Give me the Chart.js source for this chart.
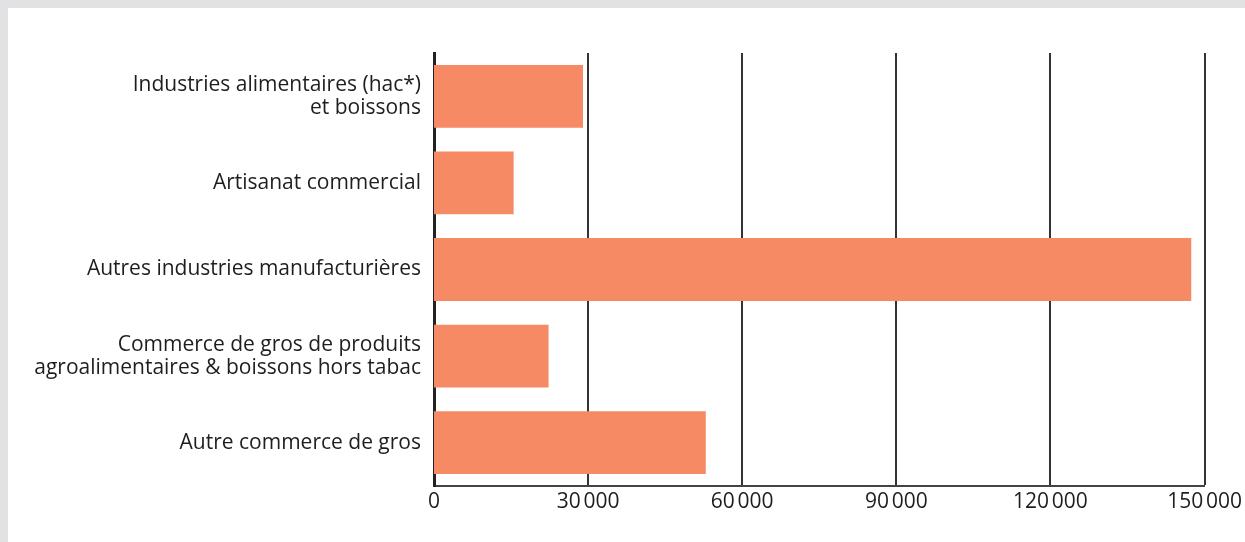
<!DOCTYPE html>
<html lang="fr">
<head>
<meta charset="utf-8">
<script src="https://cdn.jsdelivr.net/npm/chart.js@4"></script>
<style>
    html, body { margin: 0; padding: 0; background: #e2e2e4; }
    .panel { position: absolute; left: 8px; top: 8px; width: 1237px; height: 534px; background: #fff; }
    canvas { display: block; }
</style>
</head>
<body>
<div class="panel"><canvas id="chart" width="1237" height="534"></canvas></div>
<script>
// --- données ---
const categories = [
    ["Industries alimentaires (hac*)", "et boissons"],
    "Artisanat commercial",
    "Autres industries manufacturières",
    ["Commerce de gros de produits", "agroalimentaires & boissons hors tabac"],
    "Autre commerce de gros"
];
const valeurs = [29000, 15500, 147400, 22300, 52900];
const ticksX = [0, 30000, 60000, 90000, 120000, 150000];
const tickLabels = ["0", "30\u202f000", "60\u202f000", "90\u202f000", "120\u202f000", "150\u202f000"];

const police = "'Open Sans', 'Noto Sans', sans-serif";
const texte = '#1e1e1e';

new Chart(document.getElementById('chart'), {
    type: 'bar',
    data: {
        labels: categories,
        datasets: [{
            data: valeurs,
            backgroundColor: '#f58a64',
            barPercentage: 1,
            categoryPercentage: 0.725
        }]
    },
    options: {
        indexAxis: 'y',
        responsive: false,
        animation: false,
        layout: { padding: { top: 45, right: 40, left: 0, bottom: 0 } },
        plugins: { legend: { display: false }, tooltip: { enabled: false } },
        scales: {
            x: {
                min: 0,
                max: 150000,
                afterBuildTicks: (scale) => {
                    scale.ticks = ticksX.map(v => ({ value: v }));
                },
                afterFit: (scale) => { scale.height = 56; },
                grid: {
                    color: '#333',
                    lineWidth: (c) => (c.tick && c.tick.value === 0 ? 0 : 2),
                    drawTicks: false
                },
                border: { display: true, color: '#444', width: 2 },
                ticks: {
                    padding: 3,
                    color: texte,
                    font: { family: police, size: 21 },
                    maxRotation: 0,
                    callback: (v, i) => tickLabels[i]
                }
            },
            y: {
                afterFit: (scale) => { scale.width = 426; },
                grid: { display: false, drawTicks: false },
                border: { display: true, color: '#222', width: 3 },
                ticks: {
                    padding: 13,
                    color: texte,
                    font: { family: police, size: 21, lineHeight: 1.1 }
                }
            }
        }
    }
});
</script>
</body>
</html>
